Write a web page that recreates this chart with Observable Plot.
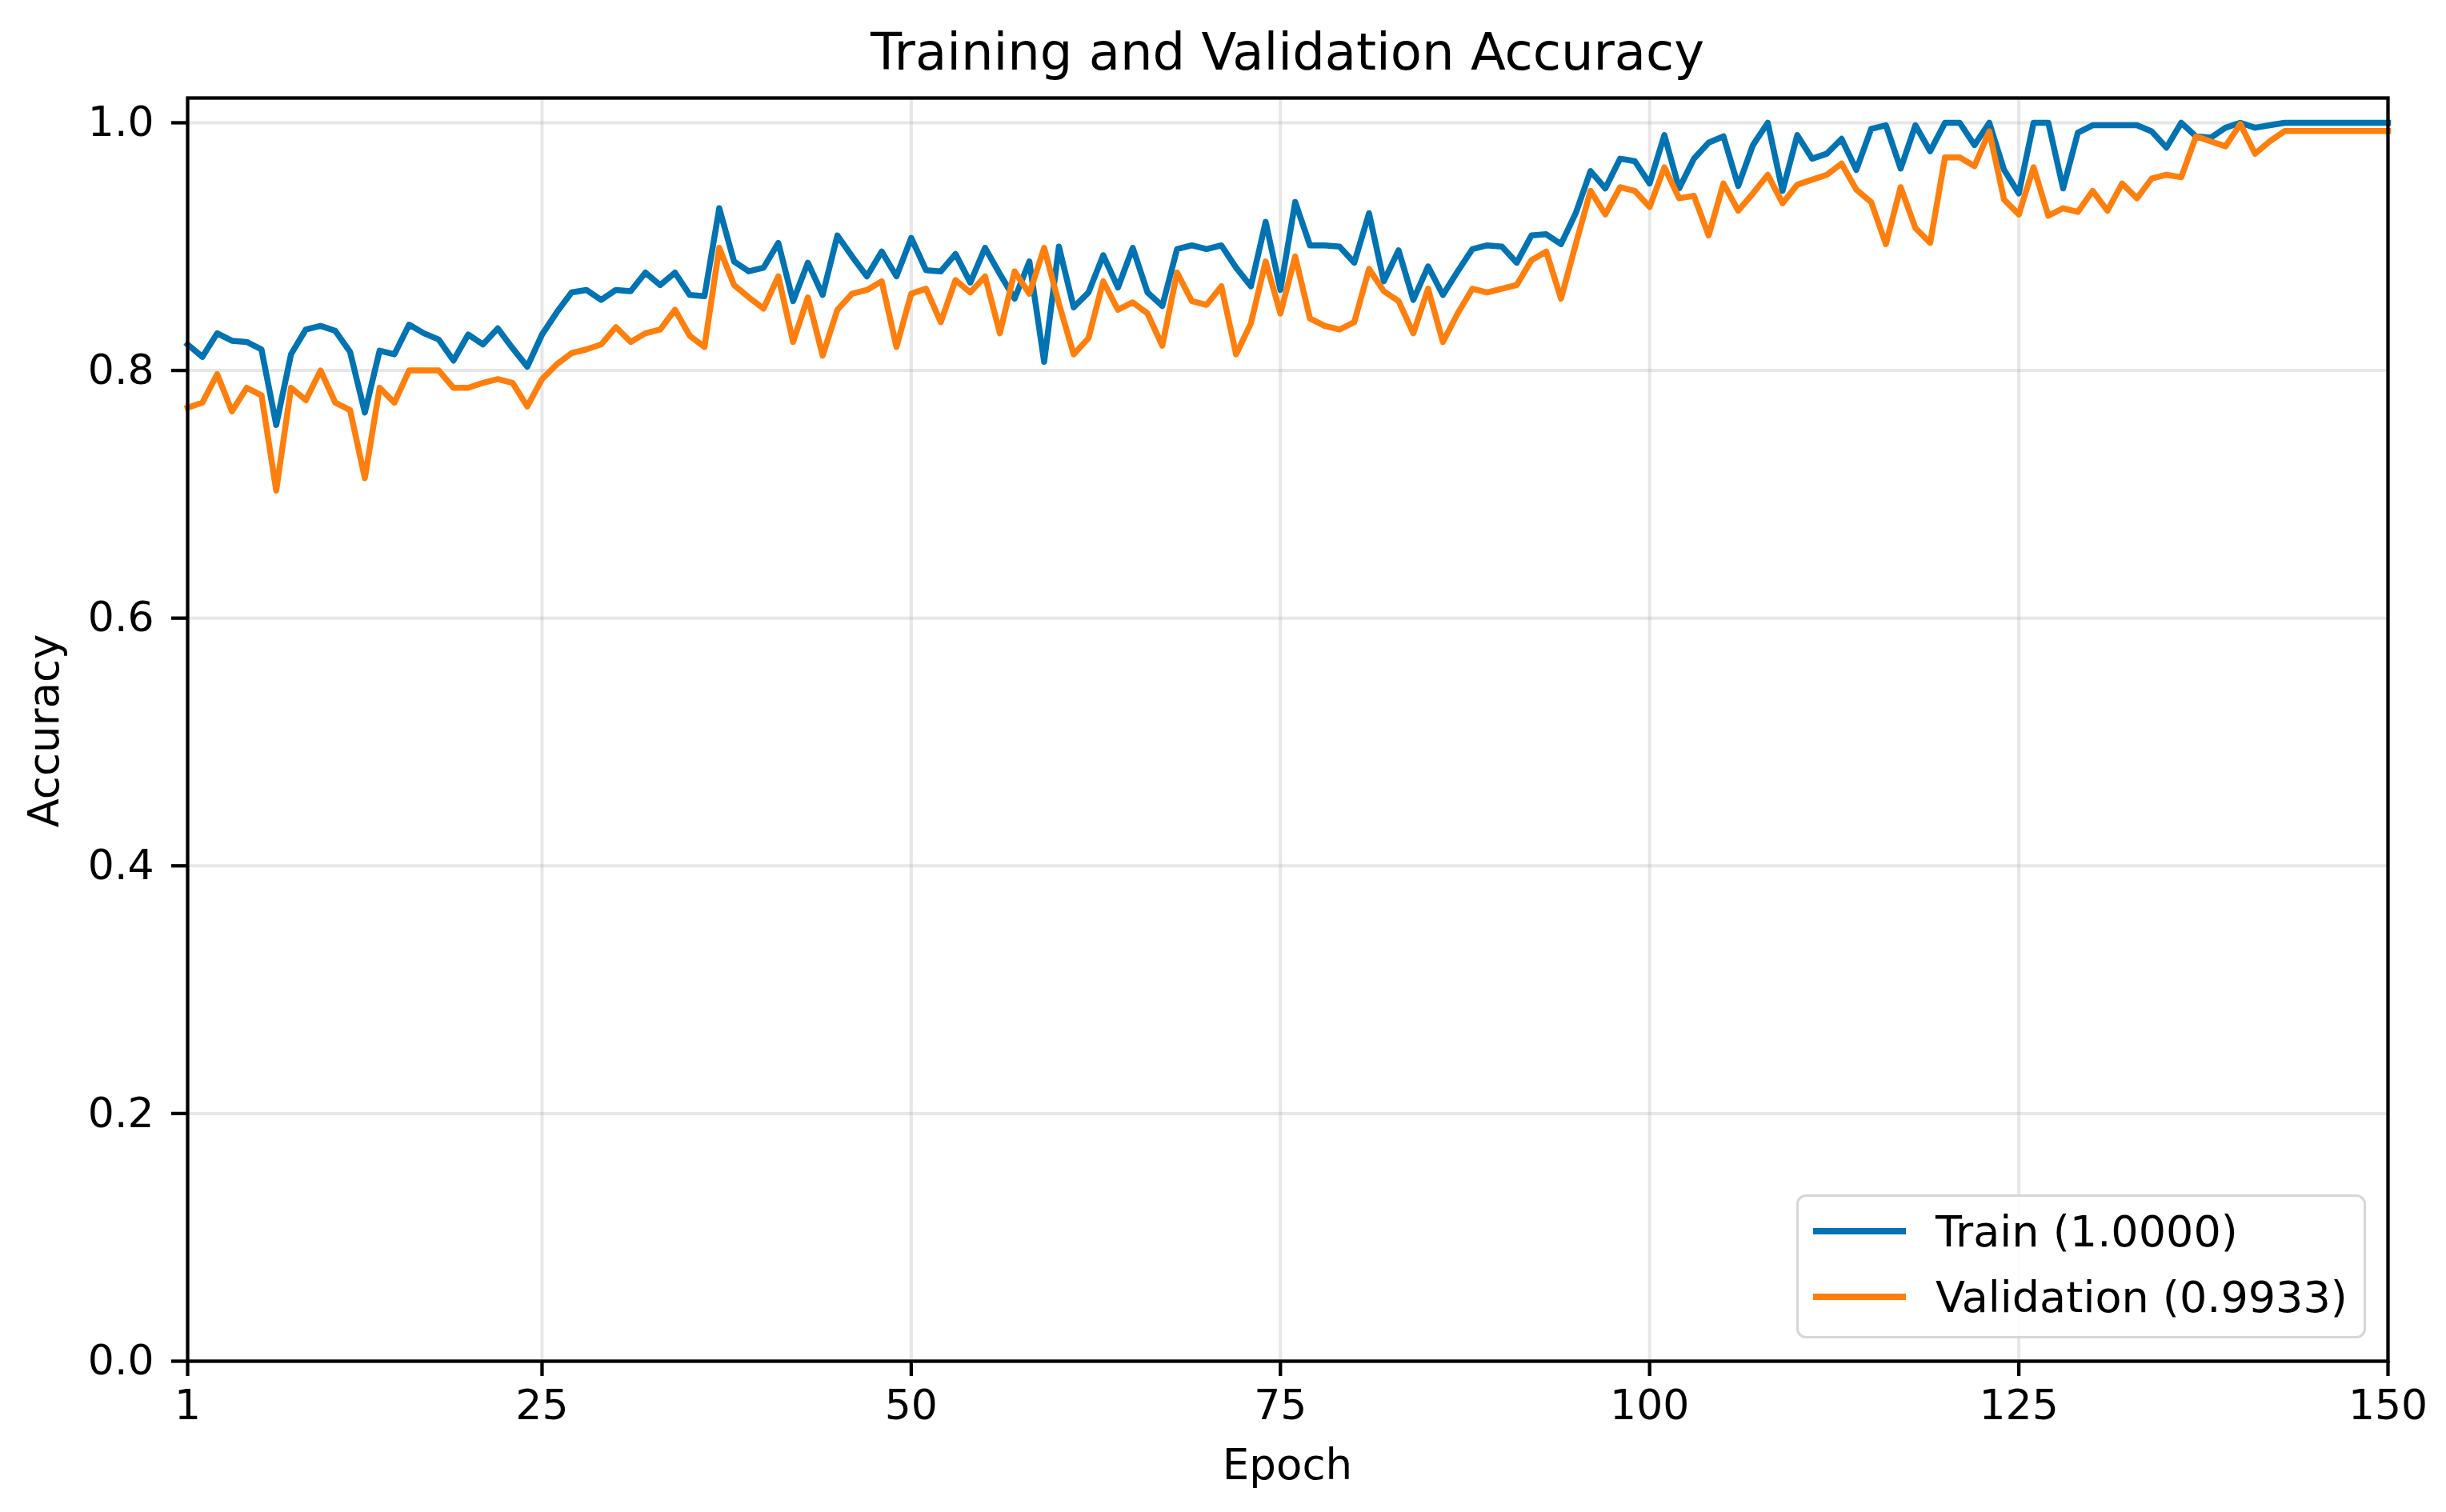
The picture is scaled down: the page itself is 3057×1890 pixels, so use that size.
<!DOCTYPE html>
<html>
<head>
<meta charset="utf-8">
<script src="https://cdn.jsdelivr.net/npm/d3@7"></script>
<script src="https://cdn.jsdelivr.net/npm/@observablehq/plot@0.6"></script>
<style>
  html, body { margin: 0; padding: 0; background: #ffffff; }
  #wrap { position: relative; width: 3057px; height: 1890px; background: #ffffff; font-family: "DejaVu Sans", sans-serif; color: #000; }
  #wrap svg { position: absolute; left: 0; top: 0; }
  .lbl { position: absolute; line-height: 1; white-space: nowrap; }
  #title { left: 234px; width: 2750px; top: 33px; font-size: 64px; text-align: center; }
  #xlabel { left: 234px; width: 2750px; top: 1804px; font-size: 53px; text-align: center; }
  #ylabel { left: -146px; top: 887px; width: 400px; height: 53px; font-size: 53px; text-align: center; transform: rotate(-90deg); }
  #legend { position: absolute; left: 2245px; top: 1493px; width: 706px; height: 174px; border: 3px solid #d6d6d6; border-radius: 12px; background: rgba(255,255,255,0.85); }
  .swatch { position: absolute; left: 18px; width: 116px; height: 8px; }
  .ltext { position: absolute; left: 171px; font-size: 54px; line-height: 1; white-space: nowrap; }
</style>
</head>
<body>
<div id="wrap">
  <div id="chart"></div>
  <div id="title" class="lbl">Training and Validation Accuracy</div>
  <div id="xlabel" class="lbl">Epoch</div>
  <div id="ylabel" class="lbl">Accuracy</div>
  <div id="legend"></div>
</div>
<script>
// ---- data ----
const trainAcc = [
  0.821, 0.811, 0.830, 0.824, 0.823, 0.817, 0.756, 0.813, 0.833, 0.836,
  0.832, 0.815, 0.766, 0.816, 0.813, 0.837, 0.830, 0.825, 0.808, 0.829,
  0.821, 0.834, 0.818, 0.803, 0.829, 0.847, 0.863, 0.865, 0.857, 0.865,
  0.864, 0.879, 0.869, 0.879, 0.861, 0.860, 0.931, 0.888, 0.880, 0.883,
  0.903, 0.856, 0.887, 0.861, 0.909, 0.892, 0.876, 0.896, 0.876, 0.907,
  0.881, 0.880, 0.894, 0.871, 0.899, 0.878, 0.858, 0.888, 0.807, 0.900,
  0.851, 0.863, 0.893, 0.867, 0.899, 0.863, 0.852, 0.898, 0.901, 0.898,
  0.901, 0.883, 0.868, 0.920, 0.865, 0.936, 0.901, 0.901, 0.900, 0.887,
  0.927, 0.872, 0.897, 0.857, 0.884, 0.861, 0.880, 0.898, 0.901, 0.900,
  0.887, 0.909, 0.910, 0.902, 0.927, 0.961, 0.947, 0.971, 0.969, 0.951,
  0.990, 0.947, 0.971, 0.984, 0.989, 0.949, 0.982, 1.000, 0.945, 0.990,
  0.971, 0.975, 0.987, 0.962, 0.995, 0.998, 0.963, 0.998, 0.977, 1.000,
  1.000, 0.982, 1.000, 0.962, 0.943, 1.000, 1.000, 0.947, 0.992, 0.998,
  0.998, 0.998, 0.998, 0.993, 0.980, 1.000, 0.989, 0.988, 0.996, 1.000,
  0.996, 0.998, 1.000, 1.000, 1.000, 1.000, 1.000, 1.000, 1.000, 1.000
];
const valAcc = [
  0.770, 0.774, 0.797, 0.767, 0.786, 0.780, 0.703, 0.786, 0.776, 0.800,
  0.774, 0.768, 0.713, 0.786, 0.774, 0.800, 0.800, 0.800, 0.786, 0.786,
  0.790, 0.793, 0.790, 0.771, 0.793, 0.805, 0.814, 0.817, 0.821, 0.835,
  0.823, 0.830, 0.833, 0.849, 0.828, 0.819, 0.899, 0.869, 0.859, 0.850,
  0.876, 0.823, 0.859, 0.812, 0.849, 0.862, 0.865, 0.872, 0.819, 0.862,
  0.866, 0.839, 0.873, 0.863, 0.876, 0.830, 0.880, 0.862, 0.899, 0.854,
  0.813, 0.826, 0.872, 0.849, 0.855, 0.846, 0.820, 0.879, 0.856, 0.853,
  0.868, 0.813, 0.838, 0.888, 0.846, 0.892, 0.842, 0.836, 0.833, 0.839,
  0.882, 0.864, 0.856, 0.830, 0.866, 0.823, 0.846, 0.866, 0.863, 0.866,
  0.869, 0.889, 0.896, 0.858, 0.902, 0.945, 0.926, 0.948, 0.945, 0.932,
  0.964, 0.939, 0.941, 0.909, 0.951, 0.929, 0.943, 0.958, 0.935, 0.950,
  0.954, 0.958, 0.967, 0.946, 0.936, 0.902, 0.948, 0.915, 0.903, 0.972,
  0.972, 0.965, 0.993, 0.938, 0.926, 0.964, 0.925, 0.931, 0.928, 0.945,
  0.929, 0.951, 0.939, 0.955, 0.958, 0.956, 0.989, 0.985, 0.981, 0.999,
  0.975, 0.985, 0.9933, 0.9933, 0.9933, 0.9933, 0.9933, 0.9933, 0.9933, 0.9933
];
const seriesNames = ["Train", "Validation"];
const legendLabels = ["Train (1.0000)", "Validation (0.9933)"];
const seriesColors = ["#0173b2", "#ff7f0e"];
const xTicks = [1, 25, 50, 75, 100, 125, 150];
const yTicks = [0.0, 0.2, 0.4, 0.6, 0.8, 1.0];

// ---- build table ----
const rows = [];
trainAcc.forEach((v, i) => rows.push({epoch: i + 1, acc: v, series: seriesNames[0]}));
valAcc.forEach((v, i) => rows.push({epoch: i + 1, acc: v, series: seriesNames[1]}));

const chart = Plot.plot({
  width: 3057,
  height: 1890,
  marginLeft: 234,
  marginRight: 73,
  marginTop: 122,
  marginBottom: 189,
  style: {fontFamily: "DejaVu Sans, sans-serif", fontSize: "52px", color: "#000", background: "transparent", overflow: "visible"},
  x: {domain: [1, 150]},
  y: {domain: [0, 1.02]},
  color: {domain: seriesNames, range: seriesColors},
  marks: [
    Plot.gridX(xTicks, {stroke: "#b0b0b0", strokeOpacity: 0.3, strokeWidth: 4}),
    Plot.gridY(yTicks, {stroke: "#b0b0b0", strokeOpacity: 0.3, strokeWidth: 4}),
    Plot.line(rows, {x: "epoch", y: "acc", z: "series", stroke: "series", strokeWidth: 7.5, strokeLinejoin: "round", strokeLinecap: "square"}),
    Plot.frame({stroke: "#000", strokeWidth: 4.3}),
    Plot.axisX(xTicks, {tickSize: 19, tickPadding: 17, strokeWidth: 4.3, label: null, tickFormat: d3.format("d")}),
    Plot.axisY(yTicks, {tickSize: 20, tickPadding: 22, strokeWidth: 4.3, label: null, tickFormat: d3.format(".1f")})
  ]
});
document.getElementById("chart").appendChild(chart);

// ---- legend (HTML overlay) ----
const legend = document.getElementById("legend");
const swatchTops = [39, 121];
const textTops = [17, 99];
legendLabels.forEach((t, i) => {
  const sw = document.createElement("div");
  sw.className = "swatch";
  sw.style.top = swatchTops[i] + "px";
  sw.style.background = seriesColors[i];
  legend.appendChild(sw);
  const tx = document.createElement("div");
  tx.className = "ltext";
  tx.style.top = textTops[i] + "px";
  tx.textContent = t;
  legend.appendChild(tx);
});
</script>
</body>
</html>
